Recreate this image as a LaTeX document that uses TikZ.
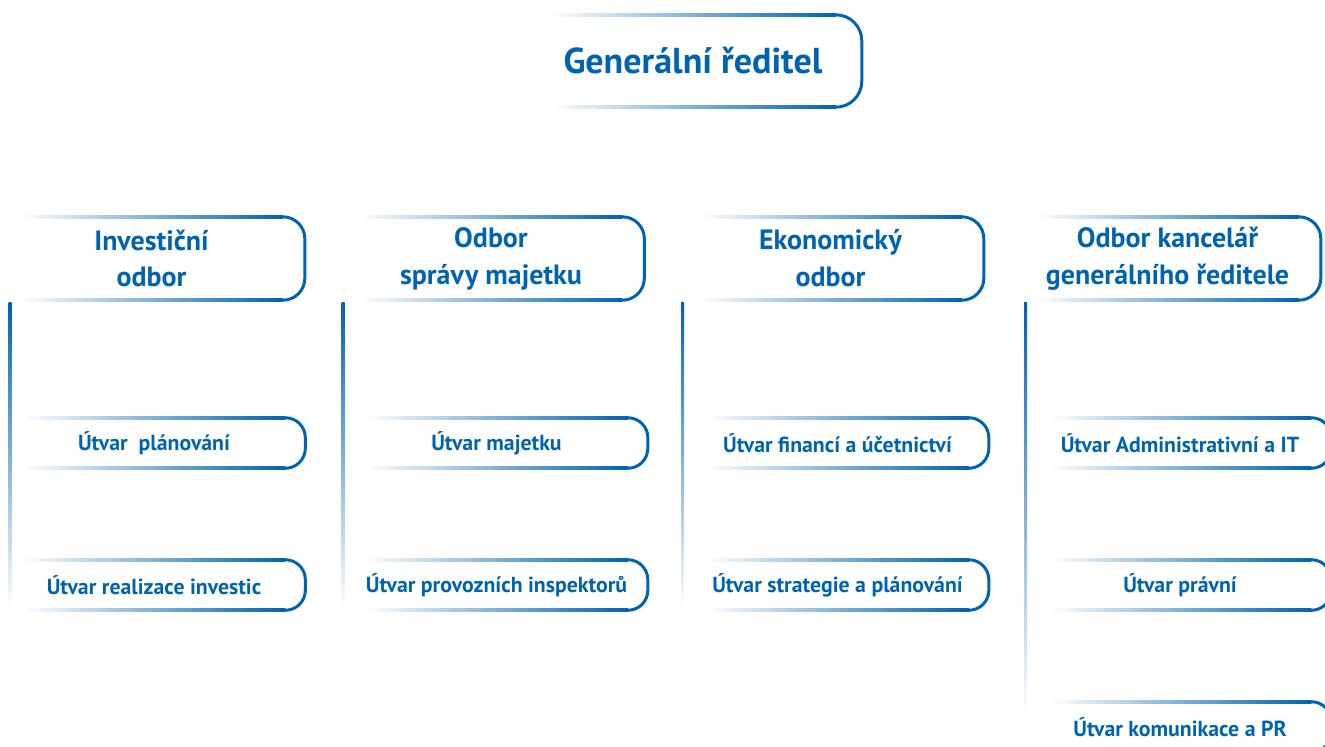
\documentclass[tikz,border=0pt]{standalone}
\usepackage{fontspec}
\setmainfont{PT Sans}
\usetikzlibrary{calc}
\definecolor{orgblue}{RGB}{0,99,176}
\newcommand\pxl{0.5669pt}
\tikzstyle{gr} = [inner sep=0pt, text=orgblue, font=\bfseries\fontsize{20.5}{24}\selectfont,
    minimum width=286*\pxl, minimum height=92*\pxl]
\tikzstyle{dept} = [inner sep=0pt, text=orgblue, font=\bfseries\fontsize{15.9}{21}\selectfont,
    align=center, minimum width=263*\pxl, minimum height=83*\pxl]
\tikzstyle{unit} = [inner sep=0pt, text=orgblue, font=\bfseries\fontsize{12.4}{14}\selectfont,
    minimum width=263*\pxl, minimum height=50*\pxl]
\tikzstyle{edge} = [draw=orgblue, line width=1.7pt]
% frame: fading top and bottom, rounded right end
\newcommand\orgframe[2]{%
  \shade[left color=white, right color=orgblue]
    ($(#1.north west)+(0,-1.5)$) rectangle ($(#1.north east)+(0,1.5)$);
  \shade[left color=white, right color=orgblue]
    ($(#1.south west)+(0,-1.5)$) rectangle ($(#1.south east)+(0,1.5)$);
  \path[edge, rounded corners=#2*\pxl]
    ($(#1.north east)+(-1,0)$) -- ($(#1.north east)+(#2,0)$)
    -- ($(#1.south east)+(#2,0)$) -- ($(#1.south east)+(-1,0)$);
}
% vertical line below a department
\newcommand\orgstem[3]{%
  \shade[top color=orgblue, bottom color=white]
    ($(#1.south west)+(#2-1.5,2)$) rectangle ($(#1.south west)+(#2+1.5,#3)$);
}
\begin{document}
\begin{tikzpicture}[x=0.02cm, y=-0.02cm]
        \useasboundingbox (0,0) rectangle (1325,747);
        % Place nodes
        \node (ceo) [gr] at (693,61) {Generální ředitel};
        \orgframe{ceo}{26}

        % Departments
        \node (inv) [dept] at (151.5,258.5) {Investiční\\odbor};
        \node (maj) [dept] at (491,258.5) {Odbor\\správy majetku};
        \node (eko) [dept] at (830.5,258.5) {Ekonomický\\odbor};
        \node (kgr) [dept] at (1167.5,258.5) {Odbor kancelář\\generálního ředitele};
        \foreach \d in {inv,maj,eko,kgr} {\orgframe{\d}{22}}
        \orgstem{inv}{-10}{310}
        \orgstem{maj}{-16.5}{310}
        \orgstem{eko}{-16.5}{310}
        \orgstem{kgr}{-10.5}{418}

        %Investiční odbor
        \node (plan) [unit] at (154,443) {Útvar\ \ plánování};
        \node (real) [unit] at (154,585) {Útvar realizace investic};

        %Odbor správy majetku
        \node (umaj) [unit] at (496.5,443) {Útvar majetku};
        \node (insp) [unit] at (496.5,585) {Útvar provozních inspektorů};

        %Ekonomický odbor
        \node (fin) [unit] at (837.5,443) {Útvar financí a účetnictví};
        \node (strat) [unit] at (837.5,585) {Útvar strategie a plánování};

        %Kancelář GŘ
        \node (adm) [unit] at (1180,443) {Útvar Administrativní a IT};
        \node (prav) [unit] at (1180,585) {Útvar právní};
        \node (pr) [unit] at (1180,727) {Útvar komunikace a PR};

        \foreach \u in {plan,real,umaj,insp,fin,strat,adm,prav,pr} {\orgframe{\u}{20}}
    \end{tikzpicture}
\end{document}
